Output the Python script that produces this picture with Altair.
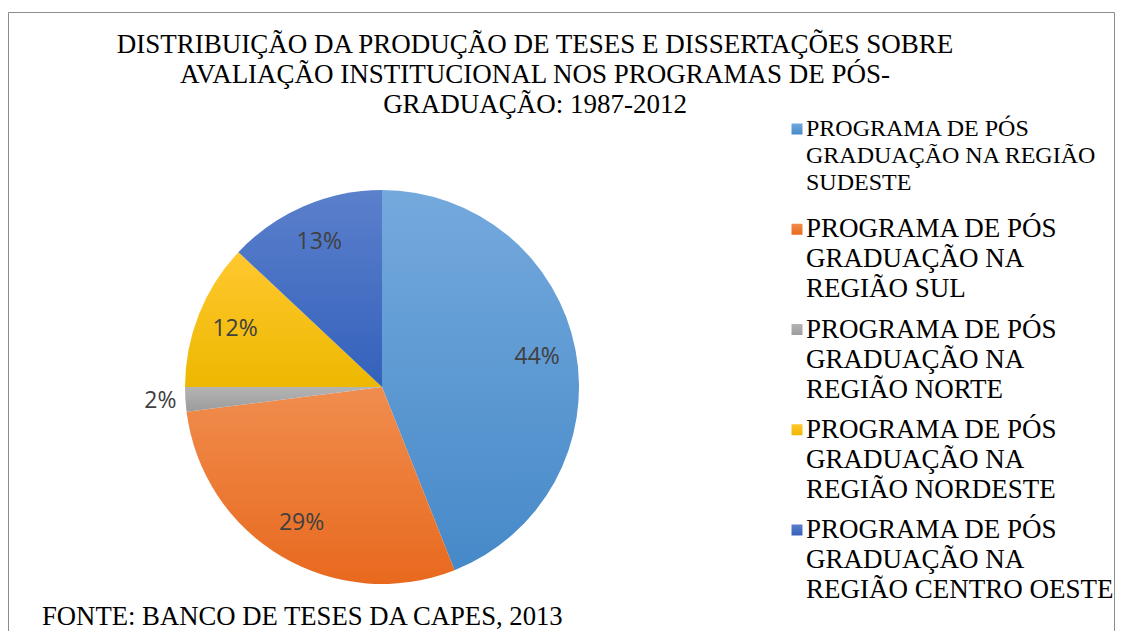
import altair as alt
import pandas as pd

title_lines = [
    "DISTRIBUIÇÃO DA PRODUÇÃO DE TESES E DISSERTAÇÕES SOBRE",
    "AVALIAÇÃO INSTITUCIONAL NOS PROGRAMAS DE PÓS-",
    "GRADUAÇÃO: 1987-2012",
]
source_note = "FONTE: BANCO DE TESES DA CAPES, 2013"

regions = [
    "PROGRAMA DE PÓS GRADUAÇÃO NA REGIÃO SUDESTE",
    "PROGRAMA DE PÓS GRADUAÇÃO NA REGIÃO SUL",
    "PROGRAMA DE PÓS GRADUAÇÃO NA REGIÃO NORTE",
    "PROGRAMA DE PÓS GRADUAÇÃO NA REGIÃO NORDESTE",
    "PROGRAMA DE PÓS GRADUAÇÃO NA REGIÃO CENTRO OESTE",
]
legend_labels = [
    "PROGRAMA DE PÓS\nGRADUAÇÃO NA REGIÃO\nSUDESTE",
    "PROGRAMA DE PÓS\nGRADUAÇÃO NA\nREGIÃO SUL",
    "PROGRAMA DE PÓS\nGRADUAÇÃO NA\nREGIÃO NORTE",
    "PROGRAMA DE PÓS\nGRADUAÇÃO NA\nREGIÃO NORDESTE",
    "PROGRAMA DE PÓS\nGRADUAÇÃO NA\nREGIÃO CENTRO OESTE",
]
shares = [44, 29, 2, 12, 13]
colors_top = ["#74A9DD", "#F08D4E", "#B4B4B4", "#FFC830", "#5B80CC"]
colors_bottom = ["#4689C8", "#E8691E", "#9C9C9C", "#EDB800", "#3461BB"]

df = pd.DataFrame({
    "region": regions,
    "legend": legend_labels,
    "share": shares,
    "idx": list(range(len(regions))),
})

SERIF = "Liberation Serif"
CX, CY = 374, 379
theta_scale = alt.Scale(domain=[0, sum(shares)], zero=True, nice=False)


def grad(i):
    return alt.LinearGradient(
        gradient="linear", x1=0, x2=0, y1=0, y2=1,
        stops=[alt.GradientStop(offset=0, color=colors_top[i]),
               alt.GradientStop(offset=1, color=colors_bottom[i])],
    )


base = alt.Chart(df).transform_window(
    cum="sum(share)", sort=[alt.SortField("idx")],
).transform_calculate(
    start="datum.cum - datum.share",
    mid="datum.cum - datum.share / 2",
)

slices = [
    base.transform_filter(f"datum.idx == {i}").mark_arc(outerRadius=197, color=grad(i)).encode(
        theta=alt.Theta("start:Q", stack=None, scale=theta_scale),
        theta2="cum:Q",
        x=alt.value(CX), y=alt.value(CY),
    )
    for i in range(len(regions))
]

labels = base.transform_calculate(
    lr="datum.share < 5 ? 222 : 158",
    label="datum.share + '%'",
).mark_text(font="Open Sans", fontSize=23, color="#404040", align="center", baseline="middle").encode(
    theta=alt.Theta("mid:Q", stack=None, scale=theta_scale),
    radius=alt.Radius("lr:Q", scale=None),
    text="label:N",
    x=alt.value(CX), y=alt.value(CY),
)

leg_y = alt.Y("idx:O", scale=alt.Scale(type="point", domain=list(range(5)), range=[121, 522], padding=0), axis=None)

squares = [
    base.transform_filter(f"datum.idx == {i}").mark_square(size=121, opacity=1, color=grad(i)).encode(
        x=alt.value(789), y=leg_y,
    )
    for i in range(len(regions))
]

legend_first = base.transform_filter("datum.idx == 0").mark_text(
    align="left", baseline="middle", font=SERIF, fontSize=24, lineHeight=27,
    lineBreak="\n", color="black",
).encode(x=alt.value(798), y=leg_y, text="legend:N")

legend_rest = base.transform_filter("datum.idx > 0").mark_text(
    align="left", baseline="middle", font=SERIF, fontSize=27, lineHeight=30,
    lineBreak="\n", color="black",
).encode(x=alt.value(798), y=leg_y, text="legend:N")

title = alt.Chart(pd.DataFrame({"t": ["\n".join(title_lines)]})).mark_text(
    align="center", baseline="middle", font=SERIF, fontSize=27, lineHeight=30,
    lineBreak="\n", color="black",
).encode(x=alt.value(527), y=alt.value(37), text="t:N")

footer = alt.Chart(pd.DataFrame({"t": [source_note]})).mark_text(
    align="left", baseline="middle", font=SERIF, fontSize=26.7, color="black",
).encode(x=alt.value(34), y=alt.value(609), text="t:N")

frame = alt.Chart(pd.DataFrame({"f": [0]})).mark_rect(
    fillOpacity=0, stroke="#8c8c8c", strokeWidth=1,
).encode(x=alt.value(0.5), x2=alt.value(1106.5), y=alt.value(4.5), y2=alt.value(660))

chart = alt.layer(frame, *slices, labels, *squares, legend_first, legend_rest, title, footer).properties(
    width=1107, height=623,
    autosize=alt.AutoSizeParams(type="none"),
    padding=0,
).configure_view(stroke=None)

chart.save("out.html", embed_options={"renderer": "svg", "actions": False})
